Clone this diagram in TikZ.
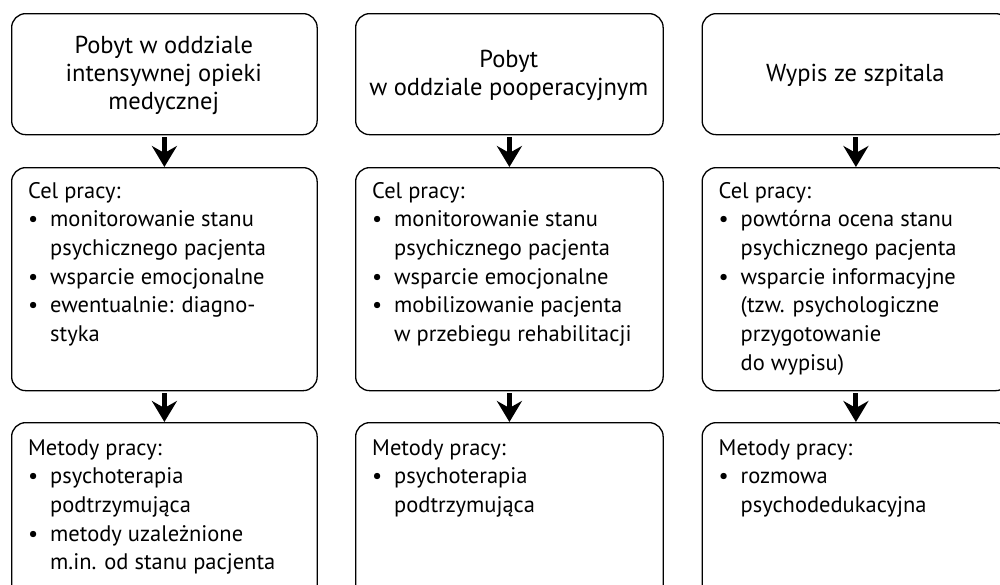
\documentclass[tikz,border=0pt]{standalone}
\usepackage{fontspec}
\setmainfont{PT Sans}
\usetikzlibrary{arrows.meta}
\newcommand\bl{\makebox[22pt][l]{•}}
\newcommand\ind{\hspace*{22pt}}
\begin{document}
\begin{tikzpicture}[x=1pt,y=1pt,
  box/.style={draw, line width=1.3pt, rounded corners=14pt, anchor=north west, inner sep=0pt},
  arr/.style={line width=5pt, -{Stealth[length=21pt,width=25pt,inset=7pt]}, shorten <=2pt},
  title/.style={align=center, inner sep=0pt, font=\fontsize{24.5}{28}\selectfont},
  txt/.style={anchor=base west, inner sep=0pt, font=\fontsize{22.5}{28.7}\selectfont}]
\useasboundingbox (0,0) rectangle (1000,-584);
\clip (0,0) rectangle (1000,-584);
% column 1
\node[box, minimum width=305.5pt, minimum height=121pt] (t1) at (11,-13) {};
\node[box, minimum width=305.5pt, minimum height=223pt] (m1) at (11,-167) {};
\node[box, minimum width=305.5pt, minimum height=190pt] (b1) at (11,-422) {};
% column 2
\node[box, minimum width=307.5pt, minimum height=121pt] (t2) at (355,-13) {};
\node[box, minimum width=307.5pt, minimum height=223pt] (m2) at (355,-167) {};
\node[box, minimum width=307.5pt, minimum height=190pt] (b2) at (355,-422) {};
% column 3
\node[box, minimum width=307.5pt, minimum height=121pt] (t3) at (701.5,-13) {};
\node[box, minimum width=307.5pt, minimum height=223pt] (m3) at (701.5,-167) {};
\node[box, minimum width=307.5pt, minimum height=190pt] (b3) at (701.5,-422) {};
% arrows
\draw[arr] (t1.south) -- (m1.north);
\draw[arr] (m1.south) -- (b1.north);
\draw[arr] (t2.south) -- (m2.north);
\draw[arr] (m2.south) -- (b2.north);
\draw[arr] (t3.south) -- (m3.north);
\draw[arr] (m3.south) -- (b3.north);
% titles
\node[title] (tt1) at (163.75,-75) {Pobyt w oddziale\\intensywnej opieki\\medycznej};
\node[title] (tt2) at (508.75,-75) {Pobyt\\w oddziale pooperacyjnym};
\node[title] (tt3) at (855.25,-75) {Wypis ze szpitala};
% middle texts
\node[txt] (mt1) at (28,-198) {\parbox[t]{285pt}{Cel pracy:\\
\bl monitorowanie stanu\\
\ind psychicznego pacjenta\\
\bl wsparcie emocjonalne\\
\bl ewentualnie: diagno-\\
\ind styka}};
\node[txt] (mt2) at (372,-198) {\parbox[t]{285pt}{Cel pracy:\\
\bl monitorowanie stanu\\
\ind psychicznego pacjenta\\
\bl wsparcie emocjonalne\\
\bl mobilizowanie pacjenta\\
\ind w przebiegu rehabilitacji}};
\node[txt] (mt3) at (718.5,-198) {\parbox[t]{285pt}{Cel pracy:\\
\bl powtórna ocena stanu\\
\ind psychicznego pacjenta\\
\bl wsparcie informacyjne\\
\ind (tzw. psychologiczne\\
\ind przygotowanie\\
\ind do wypisu)}};
% bottom texts
\node[txt] (bt1) at (28,-455) {\parbox[t]{285pt}{Metody pracy:\\
\bl psychoterapia\\
\ind podtrzymująca\\
\bl metody uzależnione\\
\ind m.in. od stanu pacjenta}};
\node[txt] (bt2) at (372,-455) {\parbox[t]{285pt}{Metody pracy:\\
\bl psychoterapia\\
\ind podtrzymująca}};
\node[txt] (bt3) at (718.5,-455) {\parbox[t]{285pt}{Metody pracy:\\
\bl rozmowa\\
\ind psychodedukacyjna}};
\end{tikzpicture}
\end{document}
